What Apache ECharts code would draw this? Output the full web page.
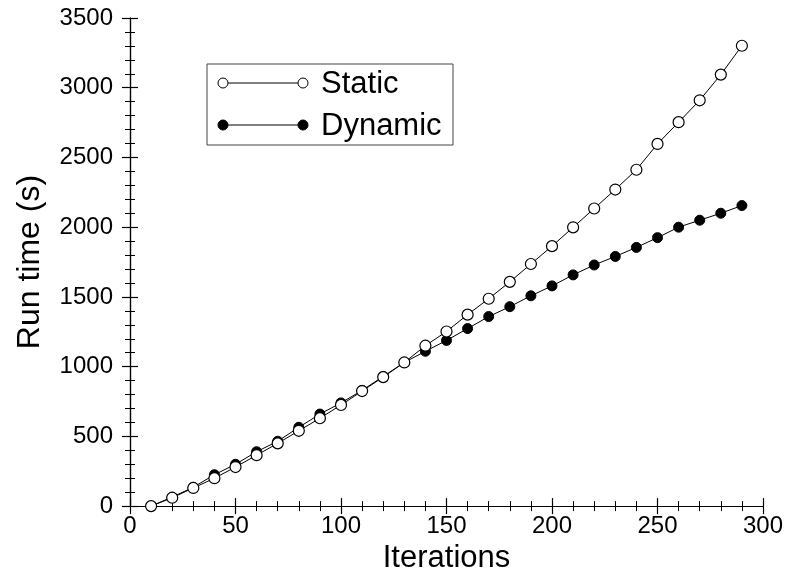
<!DOCTYPE html>
<html>
<head>
<meta charset="utf-8">
<script src="https://cdn.jsdelivr.net/npm/echarts@6/dist/echarts.min.js"></script>
<style>
  html, body { margin: 0; padding: 0; background: #fff; }
  #chart { width: 789px; height: 579px; }
</style>
</head>
<body>
<div id="chart"></div>
<script>
// data
var iterations = [10, 20, 30, 40, 50, 60, 70, 80, 90, 100, 110, 120, 130, 140, 150,
                  160, 170, 180, 190, 200, 210, 220, 230, 240, 250, 260, 270, 280, 290];
var staticTime = [0, 60, 130, 200, 280, 365, 450, 540, 630, 725, 825, 925, 1030, 1150, 1252,
                  1373, 1487, 1608, 1736, 1864, 1999, 2134, 2270, 2412, 2597, 2753, 2910, 3094, 3301];
var dynamicTime = [0, 65, 135, 225, 300, 390, 465, 565, 660, 740, 830, 930, 1030, 1110, 1188,
                   1273, 1359, 1430, 1508, 1579, 1658, 1729, 1790, 1855, 1925, 2000, 2050, 2100, 2155];
var seriesNames = ['Static', 'Dynamic'];

var font = 'Liberation Sans, Arial, Helvetica, sans-serif';

var pairs = function(xs, ys) {
    return xs.map(function(x, i) { return [x, ys[i]]; });
};

var baseAxis = function(min, max, interval) {
    return {
        type: 'value',
        min: min,
        max: max,
        interval: interval,
        axisLine: { show: true, lineStyle: { color: '#000', width: 1.2 } },
        axisTick: { show: true, inside: true, length: 8, lineStyle: { color: '#000', width: 1.2 } },
        // minor ticks ignore "inside", a negative length turns them in
        minorTick: { show: true, splitNumber: 5, length: -5, lineStyle: { color: '#000', width: 1 } },
        splitLine: { show: false },
        minorSplitLine: { show: false }
    };
};

var plainNum = function(v) { return String(v); };

var xBottom = baseAxis(0, 300, 50);
xBottom.position = 'bottom';
xBottom.name = 'Iterations';
xBottom.nameLocation = 'middle';
xBottom.nameGap = 31;
xBottom.nameTextStyle = { fontFamily: font, fontSize: 31, color: '#000' };
xBottom.axisLabel = { fontFamily: font, fontSize: 24, color: '#000', margin: 8, formatter: plainNum };

var xTop = baseAxis(0, 300, 50);
xTop.position = 'top';
xTop.axisLabel = { show: false };

var yLeft = baseAxis(0, 3500, 500);
yLeft.position = 'left';
yLeft.name = 'Run time (s)';
yLeft.nameLocation = 'middle';
yLeft.nameGap = 84;
yLeft.nameTextStyle = { fontFamily: font, fontSize: 32, color: '#000' };
yLeft.axisLabel = { fontFamily: font, fontSize: 24, color: '#000', margin: 17, formatter: plainNum };

var yRight = baseAxis(0, 3500, 500);
yRight.position = 'right';
yRight.axisLabel = { show: false };

// legend box drawn as graphic (line with a marker at each end)
var legendRow = function(top, filled, label) {
    var fill = filled ? '#000' : '#fff';
    return [
        { type: 'line', shape: { x1: 223, y1: top, x2: 303, y2: top },
          style: { stroke: '#000', lineWidth: 1 } },
        { type: 'circle', shape: { cx: 223, cy: top, r: 5 },
          style: { fill: fill, stroke: '#000', lineWidth: 1 } },
        { type: 'circle', shape: { cx: 303, cy: top, r: 5 },
          style: { fill: fill, stroke: '#000', lineWidth: 1 } },
        { type: 'text', x: 321, y: top + 1,
          style: { text: label, font: '31px ' + font, fill: '#000', verticalAlign: 'middle' } }
    ];
};

var chart = echarts.init(document.getElementById('chart'), null, { renderer: 'canvas' });
chart.setOption({
    animation: false,
    backgroundColor: '#fff',
    grid: { left: 130, right: 26, top: 18, bottom: 69 },
    xAxis: [xBottom, xTop],
    yAxis: [yLeft, yRight],
    graphic: [
        { type: 'rect', shape: { x: 207, y: 64, width: 246, height: 81 },
          style: { fill: '#fff', stroke: '#444', lineWidth: 1 }, z: 10 }
    ].concat(legendRow(83, false, seriesNames[0]), legendRow(125, true, seriesNames[1])).map(function(g) {
        if (g.z === undefined) g.z = 11;
        return g;
    }),
    series: [
        {
            name: seriesNames[1],
            type: 'line',
            data: pairs(iterations, dynamicTime),
            symbol: 'circle',
            symbolSize: 10,
            lineStyle: { color: '#000', width: 1 },
            itemStyle: { color: '#000', borderColor: '#000', borderWidth: 1 }
        },
        {
            name: seriesNames[0],
            type: 'line',
            data: pairs(iterations, staticTime),
            symbol: 'circle',
            symbolSize: 11,
            lineStyle: { color: '#000', width: 1 },
            itemStyle: { color: '#fff', borderColor: '#000', borderWidth: 1.2 }
        }
    ]
});
</script>
</body>
</html>
